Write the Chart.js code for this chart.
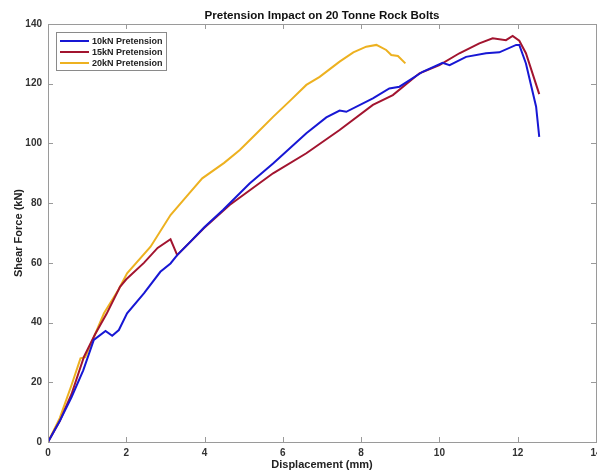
<!DOCTYPE html>
<html>
<head>
<meta charset="utf-8">
<script src="https://cdn.jsdelivr.net/npm/chart.js@4/dist/chart.umd.min.js"></script>
<style>
  html, body { margin: 0; padding: 0; background: #fff; overflow: hidden; }
  #wrap { width: 597px; height: 472px; overflow: hidden; }
</style>
</head>
<body>
<div id="wrap"><canvas id="chart" width="610" height="472"></canvas></div>
<script>
const seriesLabels = ['10kN Pretension', '15kN Pretension', '20kN Pretension'];
const seriesColors = ['#1717d4', '#a2142f', '#edb120'];

// displacement (mm) / shear force (kN)
const disp10 = [0, 0.3, 0.6, 0.9, 1.17, 1.47, 1.64, 1.81, 2.02, 2.45, 2.87, 3.13, 3.3, 3.64, 4.0, 4.47, 5.15, 5.75, 6.6, 7.11, 7.45, 7.62, 8.3, 8.72, 8.98, 9.57, 10.08, 10.26, 10.68, 11.19, 11.53, 11.96, 12.04, 12.21, 12.47, 12.55];
const force10 = [0, 7, 15, 24, 34.2, 37.2, 35.6, 37.5, 43.1, 49.8, 57, 59.8, 62.6, 67.1, 72, 77.7, 86.6, 93.3, 103.4, 108.7, 111, 110.6, 115.1, 118.4, 119, 124, 127, 126.2, 129, 130.2, 130.5, 133, 133, 126.8, 112.3, 102.2];

const disp15 = [0, 0.3, 0.6, 0.92, 1.2, 1.5, 1.84, 2.0, 2.45, 2.8, 3.13, 3.3, 3.98, 4.64, 5.75, 6.6, 7.45, 8.3, 8.81, 9.49, 10, 10.51, 11.02, 11.36, 11.7, 11.87, 12.04, 12.21, 12.55];
const force15 = [0, 7, 16, 28.6, 36, 43, 52, 54.5, 60, 65, 67.9, 62.6, 71.6, 79.4, 90, 96.7, 104.5, 112.9, 116.2, 123.5, 126.2, 130.2, 133.5, 135.2, 134.6, 136, 134.4, 130.2, 116.5];

const disp20 = [0, 0.3, 0.6, 0.83, 0.95, 1.2, 1.43, 1.8, 2.02, 2.62, 3.13, 3.64, 3.94, 4.5, 4.9, 5.3, 5.75, 6.2, 6.6, 6.94, 7.45, 7.8, 8.13, 8.39, 8.64, 8.77, 8.94, 9.13];
const force20 = [0, 8, 19, 28, 28.4, 36, 43.1, 51, 56.5, 65.4, 76, 83.8, 88.3, 93.5, 97.8, 103, 108.9, 114.5, 119.6, 122.3, 127.4, 130.5, 132.4, 133, 131.3, 129.6, 129.3, 126.8];

const xTicks = [0, 2, 4, 6, 8, 10, 12, 14];
const yTicks = [0, 20, 40, 60, 80, 100, 120, 140];

function pairs(xs, ys) {
  return xs.map((x, i) => ({ x: x, y: ys[i] }));
}

const FONT = 'Liberation Sans, Arial, sans-serif';
const tickFont = { family: FONT, size: 10, weight: 'bold' };

// MATLAB style box, inward ticks, title and legend
const matlabFrame = {
  id: 'matlabFrame',
  afterDraw(chart) {
    const ctx = chart.ctx;
    const a = chart.chartArea;
    const xs = chart.scales.x, ys = chart.scales.y;
    ctx.save();
    ctx.strokeStyle = '#9a9a9a';
    ctx.lineWidth = 1;
    ctx.strokeRect(Math.round(a.left) + 0.5, Math.round(a.top) + 0.5, Math.round(a.right - a.left), Math.round(a.bottom - a.top));
    ctx.beginPath();
    xTicks.forEach(v => {
      const px = Math.round(xs.getPixelForValue(v)) + 0.5;
      ctx.moveTo(px, a.bottom); ctx.lineTo(px, a.bottom - 5);
      ctx.moveTo(px, a.top); ctx.lineTo(px, a.top + 5);
    });
    yTicks.forEach(v => {
      const py = Math.round(ys.getPixelForValue(v)) + 0.5;
      ctx.moveTo(a.left, py); ctx.lineTo(a.left + 5, py);
      ctx.moveTo(a.right, py); ctx.lineTo(a.right - 5, py);
    });
    ctx.stroke();

    // title
    ctx.fillStyle = '#111';
    ctx.font = 'bold 11.6px ' + FONT;
    ctx.textAlign = 'center';
    ctx.textBaseline = 'middle';
    ctx.fillText('Pretension Impact on 20 Tonne Rock Bolts', 322, 16);

    // legend
    const lx = 56, ly = 32, lw = 110, lh = 38;
    ctx.fillStyle = '#fff';
    ctx.fillRect(lx, ly, lw, lh);
    ctx.strokeStyle = '#8a8a8a';
    ctx.lineWidth = 1;
    ctx.strokeRect(lx + 0.5, ly + 0.5, lw, lh);
    ctx.font = 'bold 9px ' + FONT;
    ctx.textAlign = 'left';
    chart.data.datasets.forEach((ds, i) => {
      const yy = ly + 9 + i * 11;
      ctx.strokeStyle = ds.borderColor;
      ctx.lineWidth = 2;
      ctx.beginPath();
      ctx.moveTo(lx + 4, yy); ctx.lineTo(lx + 33, yy);
      ctx.stroke();
      ctx.fillStyle = '#222';
      ctx.fillText(ds.label, lx + 36, yy + 1);
    });
    ctx.restore();
  }
};

new Chart(document.getElementById('chart'), {
  type: 'scatter',
  data: {
    datasets: [
      { label: seriesLabels[0], data: pairs(disp10, force10) },
      { label: seriesLabels[1], data: pairs(disp15, force15) },
      { label: seriesLabels[2], data: pairs(disp20, force20) }
    ].map((ds, i) => Object.assign(ds, {
      showLine: true,
      borderColor: seriesColors[i],
      backgroundColor: seriesColors[i],
      borderWidth: 2,
      pointRadius: 0,
      tension: 0
    }))
  },
  options: {
    responsive: false,
    animation: false,
    layout: { padding: { top: 24, right: 14, left: 12, bottom: 0 } },
    plugins: {
      legend: { display: false },
      tooltip: { enabled: false },
      title: { display: false }
    },
    scales: {
      x: {
        type: 'linear',
        min: 0, max: 14,
        afterBuildTicks: s => { s.ticks = xTicks.map(v => ({ value: v })); },
        afterFit: s => { s.height = 30; },
        grid: { display: false, drawTicks: false, tickLength: 0 },
        border: { display: false },
        ticks: { color: '#333', font: tickFont, padding: 5 },
        title: {
          display: true, text: 'Displacement (mm)', color: '#222',
          font: { family: FONT, size: 11, weight: 'bold' },
          padding: { top: 0, bottom: 0 }
        }
      },
      y: {
        min: 0, max: 140,
        afterBuildTicks: s => { s.ticks = yTicks.map(v => ({ value: v })); },
        afterFit: s => { s.width = 36; },
        grid: { display: false, drawTicks: false, tickLength: 0 },
        border: { display: false },
        ticks: { color: '#333', font: tickFont, padding: 6 },
        title: {
          display: true, text: 'Shear Force (kN)', color: '#222',
          font: { family: FONT, size: 11, weight: 'bold' },
          padding: { top: 0, bottom: 0 }
        }
      }
    }
  },
  plugins: [matlabFrame]
});
</script>
</body>
</html>
